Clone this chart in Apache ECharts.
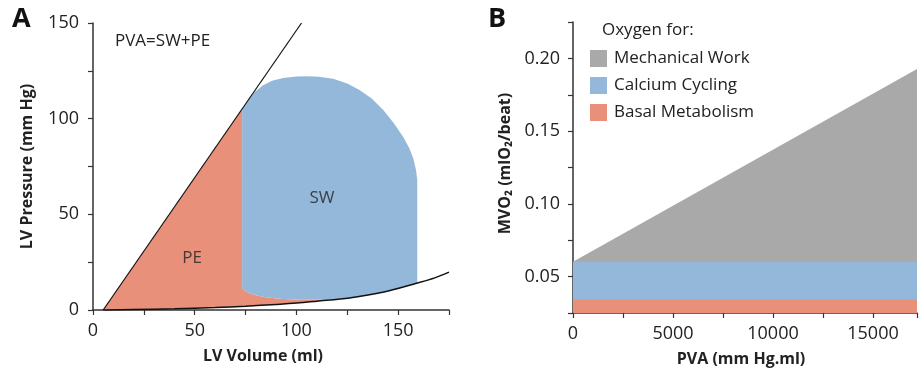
<!DOCTYPE html>
<html>
<head>
<meta charset="utf-8">
<script src="https://cdn.jsdelivr.net/npm/echarts@6/dist/echarts.min.js"></script>
<style>
  html, body { margin: 0; padding: 0; background: #fff; }
  #chart { width: 920px; height: 375px; }
</style>
</head>
<body>
<div id="chart"></div>
<script>
// Panel A: pressure-volume loop (ml, mm Hg)
const espvr = [[5, 0], [102.5, 150]];
const edpvr = [[5, 0], [20, 0.2], [40, 0.6], [60, 1.3], [75, 2.0], [90, 2.9], [100, 3.6],
               [110, 4.6], [126, 6.3], [143, 9.4], [159, 14], [168, 16.8], [175, 19.8]];
const swLoop = [[73.3, 11.5], [73.3, 105], [76, 109], [79.5, 114], [83.6, 117.5], [88, 119.8],
                [93.5, 121.2], [100, 122], [105, 122.2], [111, 121.9], [118, 120.8], [125, 118.4],
                [131, 115], [137, 110.5], [142.7, 104.5], [148, 97.5], [152.5, 90.4], [155.5, 84.5],
                [157.5, 79], [158.8, 73], [159.4, 68], [159.4, 14], [151, 11.6], [143, 9.4],
                [134, 7.6], [126, 6.3], [118, 5.6], [110, 5.3], [102, 5.3], [93.5, 5.7],
                [85.6, 6.5], [80.5, 7.6], [77, 8.8], [74.5, 10.2]];
const peRegion = [[5, 0], [73.3, 105], [73.3, 11.5], [74.5, 10.2], [77, 8.8], [80.5, 7.6],
                  [85.6, 6.5], [93.5, 5.7], [102, 5.3], [110, 5.3], [118, 5.6], [110, 4.6],
                  [100, 3.6], [90, 2.9], [75, 2.0], [60, 1.3], [40, 0.6], [20, 0.2]];
const regionLabels = [['SW', 112.6, 58.5], ['PE', 48.7, 27.2]];

// Panel B: oxygen consumption vs PVA (each band's own thickness)
const pva = [0, 17500];
const basalO2 = [0.0343, 0.0343];
const calciumO2 = [0.0260, 0.0260];
const mechanicalO2 = [0, 0.1347];
const legendNames = ['Mechanical Work', 'Calcium Cycling', 'Basal Metabolism'];

const FONT = 'Open Sans';
const INK = '#222';
const COLORS = { orange: '#e9907a', blue: '#94b8d9', gray: '#a9a9a9' };

const axisLine = { lineStyle: { color: '#333', width: 1.5 } };
const axisTick = { length: 5, lineStyle: { color: '#333', width: 1.2 } };
const tickText = { fontFamily: FONT, fontSize: 18, color: INK };
const nameText = { fontFamily: FONT, fontSize: 16, fontWeight: 'bold', color: INK };

function polygonSeries(points, fill) {
    return {
        type: 'custom', xAxisIndex: 0, yAxisIndex: 0, z: 1, silent: true,
        data: points,
        renderItem(params, api) {
            if (params.dataIndex !== 0) return null;
            return {
                type: 'polygon',
                shape: { points: points.map(p => api.coord(p)) },
                style: { fill, stroke: null },
            };
        },
    };
}

// cumulative tops, filled down to the axis floor; upper bands drawn first
const basalTop = basalO2;
const calciumTop = basalO2.map((v, i) => v + calciumO2[i]);
const mechanicalTop = calciumTop.map((v, i) => v + mechanicalO2[i]);

function bandSeries(name, tops, color, z) {
    return {
        name, type: 'line', xAxisIndex: 1, yAxisIndex: 1, z,
        data: pva.map((x, i) => [x, tops[i]]),
        symbol: 'none', color,
        lineStyle: { width: 0 },
        areaStyle: { color, opacity: 1, origin: 'start' },
    };
}

const chart = echarts.init(document.getElementById('chart'), null, { renderer: 'canvas' });

chart.setOption({
    animation: false,
    grid: [
        { left: 93, top: 23, width: 356, height: 287 },
        { left: 573, top: 22, width: 347, height: 291 },
    ],
    xAxis: [
        {
            gridIndex: 0, type: 'value', min: 0, max: 175, interval: 25,
            axisLine, axisTick, splitLine: { show: false },
            axisLabel: { ...tickText, margin: 12, formatter: v => (v % 50 === 0 ? String(v) : '') },
            name: 'LV Volume (ml)', nameLocation: 'middle', nameGap: 38,
            nameTextStyle: { ...nameText, padding: [0, 16, 0, 0] },
        },
        {
            gridIndex: 1, type: 'value', min: 0, max: 17200, interval: 2500,
            axisLine, axisTick, splitLine: { show: false },
            axisLabel: { ...tickText, margin: 12, formatter: v => (v % 5000 === 0 ? String(v) : '') },
            name: 'PVA (mm Hg.ml)', nameLocation: 'middle', nameGap: 38,
            nameTextStyle: { ...nameText, padding: [0, 8, 0, 0] },
        },
    ],
    yAxis: [
        {
            gridIndex: 0, type: 'value', min: 0, max: 150, interval: 25,
            axisLine, axisTick, splitLine: { show: false },
            axisLabel: { ...tickText, margin: 14, formatter: v => (v % 50 === 0 ? String(v) : '') },
            name: 'LV Pressure (mm Hg)', nameLocation: 'middle', nameGap: 58,
            nameTextStyle: nameText,
        },
        {
            gridIndex: 1, type: 'value', min: 0.025, max: 0.225, interval: 0.025,
            axisLine, axisTick, splitLine: { show: false },
            axisLabel: {
                ...tickText, margin: 13,
                formatter: v => {
                    const m = Math.round(v * 1000);
                    return m % 50 === 0 && m <= 200 ? v.toFixed(2) : '';
                },
            },
            name: 'MVO₂ (mlO₂/beat)', nameLocation: 'middle', nameGap: 60,
            nameTextStyle: { ...nameText, padding: [0, 0, 0, 8] },
        },
    ],
    legend: {
        data: legendNames,
        orient: 'vertical', left: 590, top: 50, padding: 0,
        itemWidth: 17, itemHeight: 17, itemGap: 10,
        icon: 'rect',
        textStyle: { fontFamily: FONT, fontSize: 17, color: INK, padding: [0, 0, 0, 2] },
        selectedMode: false,
    },
    graphic: [
        { type: 'text', z: 100, left: 12, top: 6, style: { text: 'A', font: 'bold 27px "Open Sans"', fill: '#111' } },
        { type: 'text', z: 100, left: 488, top: 6, style: { text: 'B', font: 'bold 27px "Open Sans"', fill: '#111' } },
        { type: 'text', z: 100, left: 115, top: 33, style: { text: 'PVA=SW+PE', font: '17px "Open Sans"', fill: INK } },
        { type: 'text', z: 100, left: 602, top: 22, style: { text: 'Oxygen for:', font: '17px "Open Sans"', fill: INK } },
    ],
    series: [
        polygonSeries(peRegion, COLORS.orange),
        polygonSeries(swLoop, COLORS.blue),
        {
            type: 'line', xAxisIndex: 0, yAxisIndex: 0, data: espvr, symbol: 'none', z: 3,
            lineStyle: { color: '#111', width: 1.2 },
        },
        {
            type: 'line', xAxisIndex: 0, yAxisIndex: 0, data: edpvr, symbol: 'none', smooth: 0.3, z: 3,
            lineStyle: { color: '#111', width: 1.5 },
        },
        {
            type: 'scatter', xAxisIndex: 0, yAxisIndex: 0, symbolSize: 0, z: 4,
            data: regionLabels.map(([t, x, y]) => ({ name: t, value: [x, y] })),
            label: {
                show: true, position: 'inside', formatter: p => p.name,
                fontFamily: FONT, fontSize: 17, color: INK,
            },
        },
        bandSeries('Mechanical Work', mechanicalTop, COLORS.gray, 1),
        bandSeries('Calcium Cycling', calciumTop, COLORS.blue, 2),
        bandSeries('Basal Metabolism', basalTop, COLORS.orange, 3),
    ],
});
</script>
</body>
</html>
